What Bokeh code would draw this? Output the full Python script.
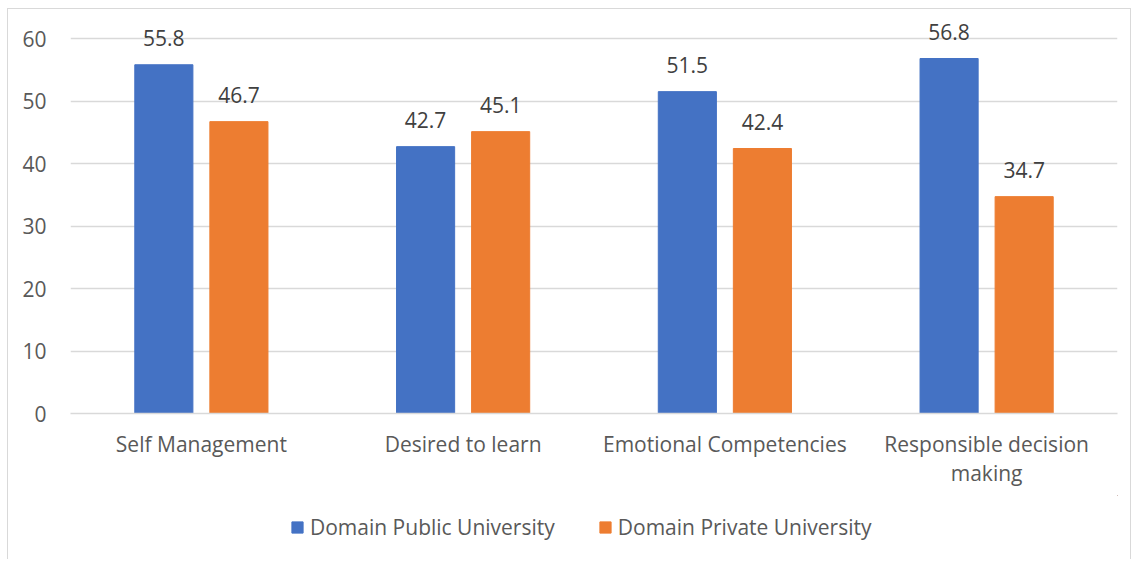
from bokeh.plotting import figure
from bokeh.layouts import column
from bokeh.models import ColumnDataSource, Legend, LegendItem
from bokeh.transform import dodge
from bokeh.embed import file_html
from bokeh.resources import INLINE
from bokeh.core.properties import value

categories = ["Self Management", "Desired to learn", "Emotional Competencies", "Responsible decision\nmaking"]
public = [55.8, 42.7, 51.5, 56.8]
private = [46.7, 45.1, 42.4, 34.7]
series_names = ["Domain Public University", "Domain Private University"]
y_ticks = [0, 10, 20, 30, 40, 50, 60]

BLUE = "#4472C4"
ORANGE = "#ED7D31"
GRID = "#D9D9D9"
TXT = "#595959"
FONT = "Open Sans"
FS = "21px"

src = ColumnDataSource(dict(
    cat=categories,
    pub=public,
    pri=private,
    pub_lbl=[f"{v:.1f}" for v in public],
    pri_lbl=[f"{v:.1f}" for v in private],
))

W = 1122
# frame extends above the 60 gridline so that data labels are not clipped
p = figure(width=W, height=486, x_range=categories, y_range=(0, 64.64),
           output_backend="svg", toolbar_location=None,
           min_border_left=62, min_border_right=13, min_border_top=0, min_border_bottom=82)
p.outline_line_color = None
p.background_fill_color = "white"
p.border_fill_color = "white"

r1 = p.vbar(x=dodge("cat", -0.1434, range=p.x_range), top="pub", width=0.222, source=src,
            fill_color=BLUE, line_color=BLUE)
r2 = p.vbar(x=dodge("cat", 0.1434, range=p.x_range), top="pri", width=0.222, source=src,
            fill_color=ORANGE, line_color=ORANGE)

p.text(x=dodge("cat", -0.1434, range=p.x_range), y="pub", text="pub_lbl", source=src,
       text_align="center", text_baseline="bottom", y_offset=-19,
       text_font=value(FONT), text_font_size=FS, text_color="#404040")
p.text(x=dodge("cat", 0.1434, range=p.x_range), y="pri", text="pri_lbl", source=src,
       text_align="center", text_baseline="bottom", y_offset=-19,
       text_font=value(FONT), text_font_size=FS, text_color="#404040")

p.yaxis.ticker = y_ticks
p.ygrid.grid_line_color = GRID
p.ygrid.grid_line_width = 1.5
p.xgrid.grid_line_color = None
p.yaxis.axis_line_color = None
p.yaxis.major_tick_line_color = None
p.yaxis.minor_tick_line_color = None
p.yaxis.major_label_standoff = 18
p.yaxis.major_label_text_font = FONT
p.yaxis.major_label_text_font_size = FS
p.yaxis.major_label_text_color = TXT

p.xaxis.axis_line_color = GRID
p.xaxis.axis_line_width = 1.5
p.xaxis.major_tick_line_color = None
p.xaxis.minor_tick_line_color = None
p.xaxis.major_label_standoff = 10
p.xaxis.major_label_text_font = FONT
p.xaxis.major_label_text_font_size = FS
p.xaxis.major_label_text_color = TXT
p.xaxis.major_label_text_line_height = 1.07
p.x_range.range_padding = 0

# legend strip (its swatch renderers sit outside the visible range)
lg = figure(width=W, height=64, output_backend="svg", toolbar_location=None,
            min_border=0, x_range=(0, 1), y_range=(0, 1))
lg.axis.visible = False
lg.grid.visible = False
lg.outline_line_color = None
lg.border_fill_color = "white"
lg.background_fill_color = "white"
d1 = lg.vbar(x=[5], top=[5], bottom=[4], width=0.1, fill_color=BLUE, line_color=BLUE)
d2 = lg.vbar(x=[5], top=[5], bottom=[4], width=0.1, fill_color=ORANGE, line_color=ORANGE)
legend = Legend(items=[LegendItem(label=series_names[0], renderers=[d1]),
                       LegendItem(label=series_names[1], renderers=[d2])],
                orientation="horizontal", location=(220, 18),
                glyph_width=14, glyph_height=14, label_standoff=6, spacing=43,
                label_text_font=FONT, label_text_font_size=FS, label_text_color=TXT,
                border_line_color=None, background_fill_alpha=0, margin=0, padding=5)
lg.add_layout(legend, "center")

layout = column(p, lg, spacing=0)
layout.styles = {"border-top": "1px solid #D9D9D9", "border-left": "1px solid #D9D9D9",
                 "border-right": "1px solid #D9D9D9", "margin-left": "7px", "margin-top": "8px"}

open("out.html", "w").write(file_html(layout, INLINE))
